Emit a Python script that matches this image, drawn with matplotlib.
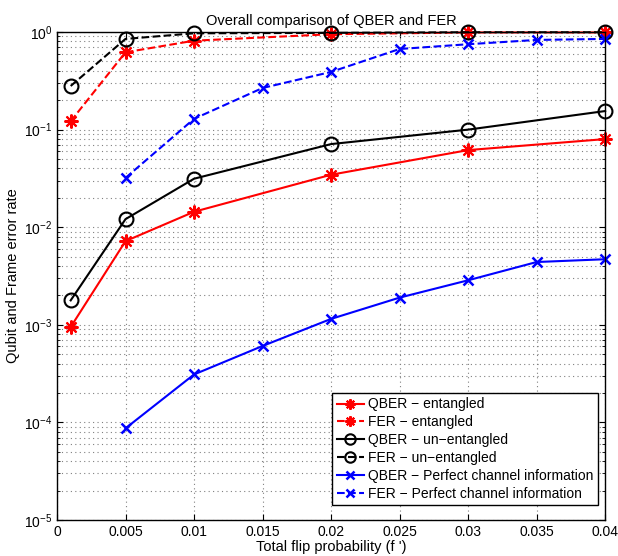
import matplotlib
matplotlib.use('Agg')
import matplotlib.pyplot as plt
from matplotlib.ticker import LogLocator, NullFormatter, MultipleLocator, FuncFormatter
import numpy as np

plt.rcParams['font.family'] = ['Liberation Sans', 'DejaVu Sans']
plt.rcParams['mathtext.fontset'] = 'custom'
plt.rcParams['mathtext.rm'] = 'Liberation Sans'

# flip probabilities
f_ent = [0.001, 0.005, 0.01, 0.02, 0.03, 0.04]
f_pci = [0.005, 0.01, 0.015, 0.02, 0.025, 0.03, 0.035, 0.04]

qber_ent = [9.5e-4, 7.2e-3, 0.0144, 0.0345, 0.0617, 0.080]
fer_ent = [0.122, 0.62, 0.815, 0.95, 0.99, 0.99]
qber_unent = [1.78e-3, 0.0121, 0.0314, 0.0711, 0.10, 0.155]
fer_unent = [0.28, 0.85, 0.97, 0.98, 0.995, 0.995]
qber_pci = [8.7e-5, 3.1e-4, 6.07e-4, 1.15e-3, 1.9e-3, 2.86e-3, 4.4e-3, 4.7e-3]
fer_pci = [0.032, 0.129, 0.267, 0.39, 0.67, 0.75, 0.83, 0.85]

fig = plt.figure(figsize=(6.18, 5.56), dpi=100)
ax = fig.add_axes([0.0922, 0.0647, 0.887, 0.8777])

lw = 1.5
star = (8, 2, 0)  # matlab-ish asterisk
kw = dict(lw=lw, clip_on=False, zorder=3)
ax.semilogy(f_ent, qber_ent, 'r-', marker=star, ms=10, mew=1.5, label='QBER \u2212 entangled', **kw)
ax.semilogy(f_ent, fer_ent, 'r--', marker=star, ms=10, mew=1.5, label='FER \u2212 entangled', **kw)
ax.semilogy(f_ent, qber_unent, 'k-', marker='o', ms=10, mfc='none', mew=1.5, label='QBER \u2212 un\u2212entangled', **kw)
ax.semilogy(f_ent, fer_unent, 'k--', marker='o', ms=10, mfc='none', mew=1.5, label='FER \u2212 un\u2212entangled', **kw)
ax.semilogy(f_pci, qber_pci, 'b-', marker='x', ms=7, mew=1.8, label='QBER \u2212 Perfect channel information', **kw)
ax.semilogy(f_pci, fer_pci, 'b--', marker='x', ms=7, mew=1.8, label='FER \u2212 Perfect channel information', **kw)

ax.set_xlim(0, 0.04)
ax.set_ylim(1e-5, 1)
ax.xaxis.set_major_locator(MultipleLocator(0.005))
ax.xaxis.set_major_formatter(FuncFormatter(lambda v, p: '%g' % round(v, 4)))
ax.yaxis.set_major_locator(LogLocator(base=10, numticks=10))
ax.yaxis.set_minor_locator(LogLocator(base=10, subs=np.arange(2, 10), numticks=10))
ax.yaxis.set_minor_formatter(NullFormatter())

grid_ls = (0, (1, 3))
ax.grid(True, which='major', linestyle=grid_ls, color='0.5', lw=0.8)
ax.grid(True, which='minor', axis='y', linestyle=grid_ls, color='0.5', lw=0.8)
ax.set_axisbelow(True)
ax.tick_params(which='both', direction='in', top=True, right=True, labelsize=10)
ax.tick_params(which='major', length=4)
ax.tick_params(which='minor', length=2)
for s in ax.spines.values():
    s.set_linewidth(1.0)
    s.set_zorder(4)

ax.set_title('Overall comparison of QBER and FER', fontsize=10.5, pad=5)
ax.set_xlabel("Total flip probability (f ')", fontsize=10.5, labelpad=1)
ax.set_ylabel('Qubit and Frame error rate', fontsize=10.5, labelpad=3)

leg = ax.legend(loc='lower right', bbox_to_anchor=(598 / 618, 51 / 556),
                bbox_transform=fig.transFigure, borderaxespad=0,
                fontsize=10, fancybox=False, framealpha=1,
                edgecolor='k', handlelength=2.0, handletextpad=0.3, markerscale=0.75,
                borderpad=0.3, labelspacing=0.28)
leg.get_frame().set_linewidth(1.0)
leg.set_zorder(5)

fig.savefig('out.png', dpi=100)
